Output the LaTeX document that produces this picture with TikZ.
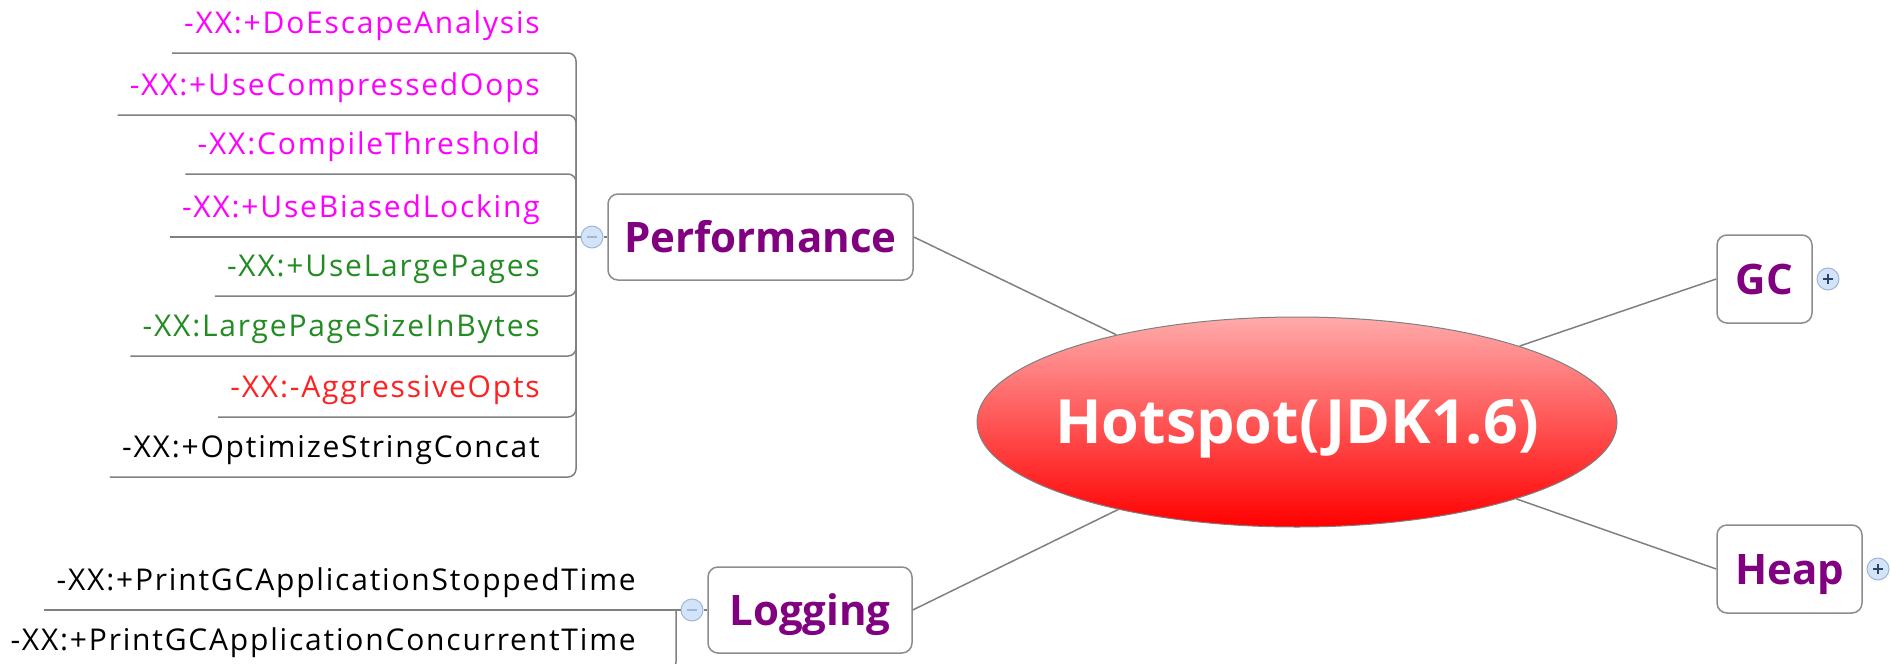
\documentclass[tikz,border=0pt]{standalone}
\usepackage{fontspec}
\setmainfont{Open Sans}
\newfontfamily\optfont[LetterSpace=6]{Open Sans}
\usepackage{tikz}
\usetikzlibrary{calc, shapes}
\tikzset{>=latex}
\definecolor{topicpurple}{HTML}{800080}
\definecolor{optpink}{HTML}{FF00FF}
\definecolor{optgreen}{HTML}{228B22}
\definecolor{optred}{HTML}{FF2020}
\definecolor{linegray}{HTML}{808080}
\definecolor{boxgray}{HTML}{8C8C8C}
\definecolor{hubtop}{HTML}{FFAAAA}
\definecolor{foldfill}{HTML}{D3E3F8}
\definecolor{folddraw}{HTML}{9DB7DA}
\definecolor{foldsign}{HTML}{2A4466}
\tikzset{
  hub/.style = {ellipse, draw=linegray, line width=1pt, minimum width=640pt, minimum height=210pt, inner sep=0pt, top color=hubtop, bottom color=red},
  hubtext/.style = {text=white, font=\fontsize{61}{70}\selectfont\bfseries, text height=43pt, text depth=0pt, inner sep=0pt},
  topic/.style = {draw=boxgray, fill=white, rounded corners=10pt, line width=1.5pt, text=topicpurple, font=\fontsize{42}{50}\selectfont\bfseries, text height=30pt, text depth=0pt, minimum height=86pt, inner sep=0pt},
  opt/.style = {font=\optfont\fontsize{30}{36}\selectfont, inner sep=0pt, anchor=base east},
  link/.style = {draw=linegray, line width=1.5pt},
  branch/.style = {draw=linegray, line width=1.5pt, rounded corners=8pt},
  fold/.style = {circle, minimum size=22pt, inner sep=0pt, fill=foldfill, draw=folddraw, line width=1pt},
  foldminus/.style = {fold, path picture={\draw[folddraw, line width=1.5pt] ([xshift=-5pt]path picture bounding box.center) -- ([xshift=5pt]path picture bounding box.center);}},
  foldplus/.style = {fold, path picture={\draw[foldsign, line width=1.5pt] ([xshift=-5pt]path picture bounding box.center) -- ([xshift=5pt]path picture bounding box.center) ([yshift=-5pt]path picture bounding box.center) -- ([yshift=5pt]path picture bounding box.center);}}
}
\begin{document}
\begin{tikzpicture}[x=1pt, y=-1pt]
\useasboundingbox (0,0) rectangle (1891,664);
\clip (0,0) rectangle (1891,664);
\node[hub, label={[hubtext]center:Hotspot(JDK1.6)}] (hot) at (1297,422) {};
\node[topic, minimum width=305pt] (perf) at (760.5,237) {Performance};
\node[topic, minimum width=95pt, minimum height=88pt] (gc) at (1764.5,279) {GC};
\node[topic, minimum width=145pt, minimum height=88pt] (heap) at (1789.5,569) {Heap};
\node[topic, minimum width=204pt] (logg) at (810,610) {Logging};
\draw[link] (perf.east) -- (hot);
\draw[link] (logg.east) -- (hot);
\draw[link] (gc.west) -- (hot);
\draw[link] (heap.west) -- (hot);
\node[foldminus] (pminus) at (592,237) {};
\node[foldminus] (lminus) at (692,610) {};
\node[foldplus] (gcplus) at (1828,279) {};
\node[foldplus] (heapplus) at (1878,569) {};
\coordinate (pbar) at (576,237);
\coordinate (lbar) at (676,610);
\draw[link] (pbar) -- (pminus);
\draw[link] (pminus) -- (perf);
\draw[link] (lbar) -- (lminus);
\draw[link] (lminus) -- (logg);
\node[opt] (p1) at (540,33) {\color{optpink}-XX:+DoEscapeAnalysis};
\node[opt] (p2) at (540,95) {\color{optpink}-XX:+UseCompressedOops};
\node[opt] (p3) at (540,154) {\color{optpink}-XX:CompileThreshold};
\node[opt] (p4) at (540,217) {\color{optpink}-XX:+UseBiasedLocking};
\node[opt] (p5) at (540,276) {\color{optgreen}-XX:+UseLargePages};
\node[opt] (p6) at (540,336) {\color{optgreen}-XX:LargePageSizeInBytes};
\node[opt] (p7) at (540,397) {\color{optred}-XX:-AggressiveOpts};
\node[opt] (p8) at (540,457) {-XX:+OptimizeStringConcat};
\draw[branch] ($(p1.base west)+(-12,20)$) -| (pbar);
\draw[branch] ($(p2.base west)+(-12,20)$) -| (pbar);
\draw[branch] ($(p3.base west)+(-12,20)$) -| (pbar);
\draw[branch] ($(p4.base west)+(-12,20)$) -- (pbar);
\draw[branch] ($(p5.base west)+(-12,20)$) -| (pbar);
\draw[branch] ($(p6.base west)+(-12,20)$) -| (pbar);
\draw[branch] ($(p7.base west)+(-12,20)$) -| (pbar);
\draw[branch] ($(p8.base west)+(-12,20)$) -| (pbar);
\node[opt] (l1) at (636,590) {-XX:+PrintGCApplicationStoppedTime};
\node[opt] (l2) at (636,650) {-XX:+PrintGCApplicationConcurrentTime};
\draw[branch] ($(l1.base west)+(-12,20)$) -- (lbar);
\draw[branch] ($(l2.base west)+(-12,20)$) -| (lbar);
\end{tikzpicture}
\end{document}
